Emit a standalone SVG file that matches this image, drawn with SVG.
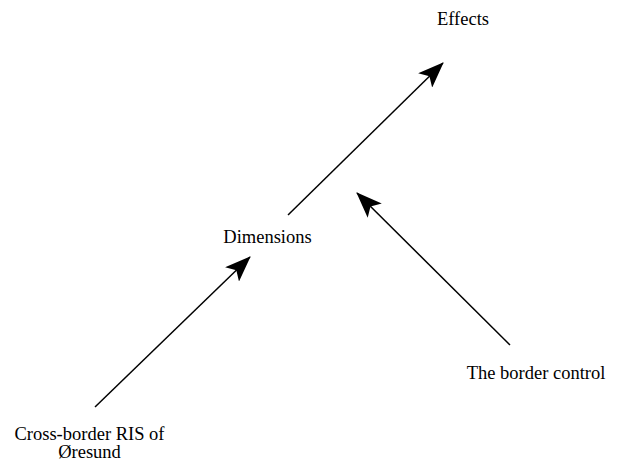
<svg xmlns="http://www.w3.org/2000/svg" width="619" height="461" viewBox="0 0 619 461">
  <style>
    .lbl { font-family: "Liberation Serif", "Times New Roman", serif; font-size: 18.5px; fill: #000; text-anchor: middle; }
    .edge { stroke: #000; stroke-width: 1.5; fill: none; marker-end: url(#head); }
  </style>
  <defs>
    <marker id="head" viewBox="0 0 26 20" refX="25" refY="10" markerWidth="26" markerHeight="20" markerUnits="userSpaceOnUse" orient="auto">
      <path d="M0,0 L26,10 L0,20 L6,10 Z" fill="#000"/>
    </marker>
  </defs>
  <rect width="619" height="461" fill="#fff"/>
  <g id="connectors">
    <line class="edge" x1="95" y1="407" x2="250" y2="257"/>
    <line class="edge" x1="288" y1="215" x2="443" y2="63"/>
    <line class="edge" x1="510" y1="345" x2="357" y2="193"/>
  </g>
  <g id="effects"><text class="lbl" x="463" y="25">Effects</text></g>
  <g id="dimensions"><text class="lbl" x="267.5" y="243">Dimensions</text></g>
  <g id="border-control"><text class="lbl" x="536" y="379">The border control</text></g>
  <g id="cross-border-ris">
    <text class="lbl" x="89.5" y="440">Cross-border RIS of</text>
    <text class="lbl" x="89.5" y="458">Øresund</text>
  </g>
</svg>
